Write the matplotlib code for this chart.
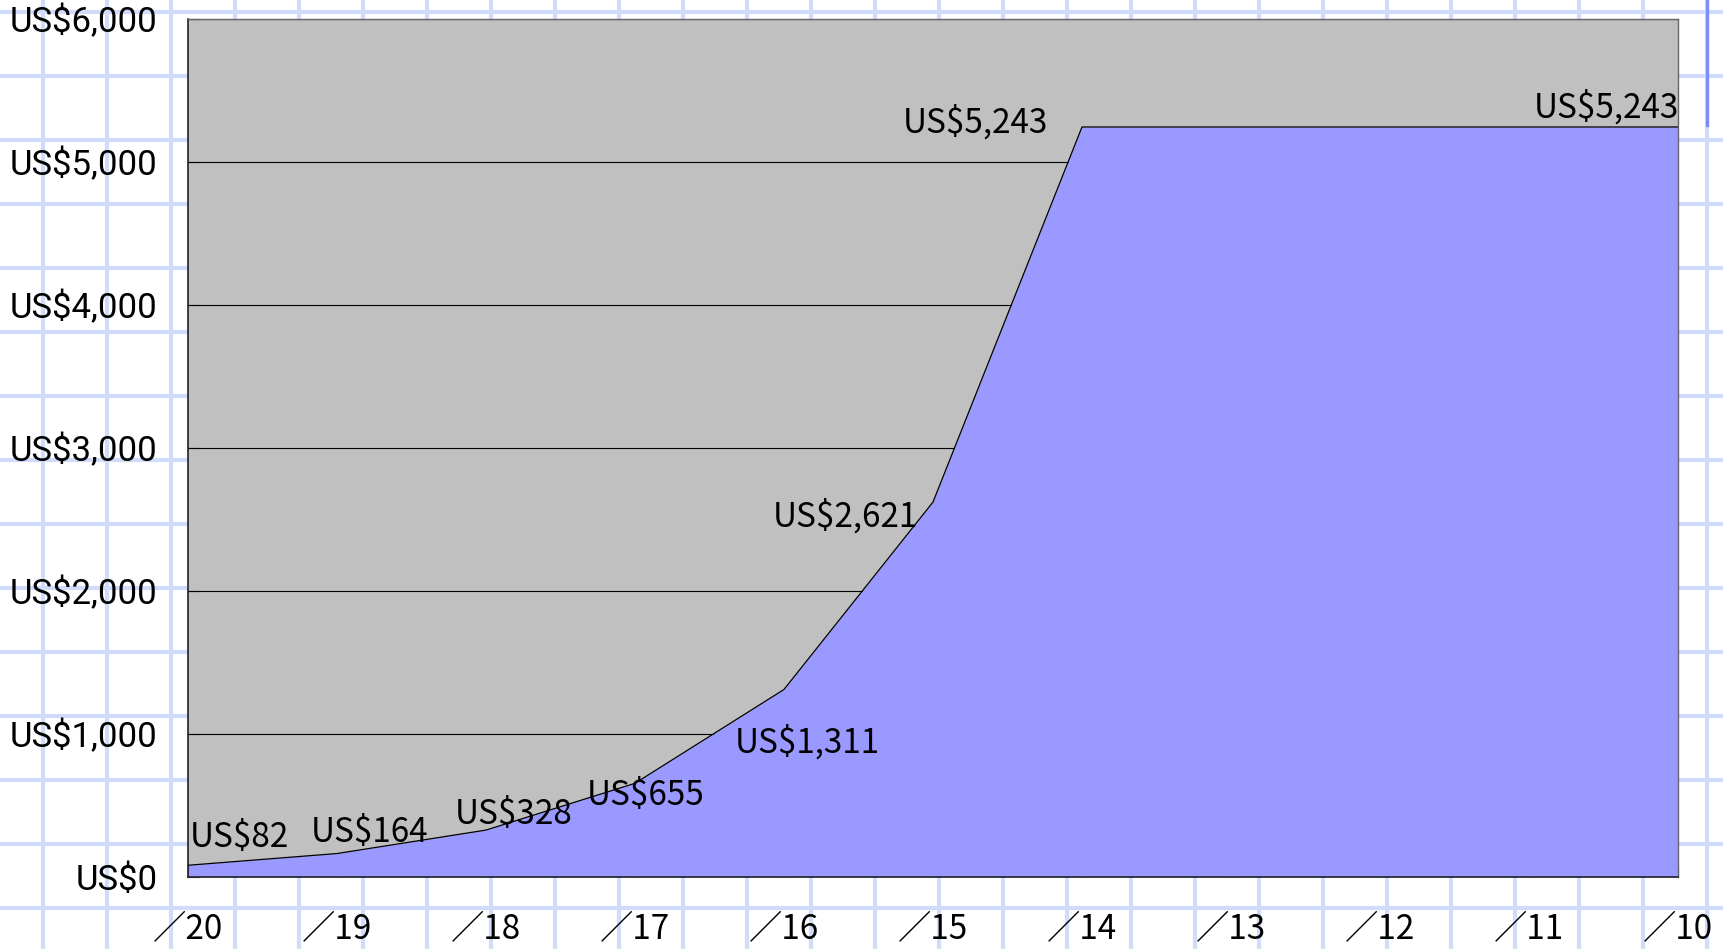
import numpy as np
import matplotlib
matplotlib.use("Agg")
import matplotlib.pyplot as plt
from matplotlib.ticker import FuncFormatter

# ── Data ──────────────────────────────────────────────────────────────────
periods = ["／20", "／19", "／18", "／17", "／16", "／15",
           "／14", "／13", "／12", "／11", "／10"]
values = [82, 164, 328, 655, 1311, 2621, 5243, 5243, 5243, 5243, 5243]
# which points carry a value label, and where (offset in pixels, h-align)
label_idx = [0, 1, 2, 3, 4, 5, 6, 10]
label_off = {0: (2, 18, "left"), 1: (-26, 12, "left"), 2: (-31, 6, "left"),
             3: (-48, -22, "left"), 4: (-49, -63, "left"),
             5: (-160, -25, "left"), 6: (-179, -6, "left"),
             10: (1, 9, "right")}

W, H, DPI = 1723, 949, 100
label_font = ["Liberation Sans Narrow", "Noto Sans CJK JP", "DejaVu Sans"]

fig = plt.figure(figsize=(W / DPI, H / DPI), dpi=DPI)
fig.patch.set_facecolor("white")

# ── graph-paper background ────────────────────────────────────────────────
bg = fig.add_axes([0, 0, 1, 1], zorder=0)
bg.set_xlim(0, W)
bg.set_ylim(H, 0)
bg.axis("off")
for xv in range(43, W, 64):
    bg.axvline(xv, color="#D0DCFA", linewidth=3.0)
for yv in range(12, H, 64):
    bg.axhline(yv, color="#D0DCFA", linewidth=3.0)
bg.plot([1707, 1707], [0, 125], color="#7B8CFF", linewidth=2.4)

# ── main chart ────────────────────────────────────────────────────────────
left, right = 188 / W, 1678 / W
bottom, top = 1 - 877 / H, 1 - 18.7 / H
ax = fig.add_axes([left, bottom, right - left, top - bottom], zorder=1)
ax.set_facecolor("#C0C0C0")

x = np.arange(len(values))
ax.set_xlim(0, len(values) - 1)
ax.set_ylim(0, 6000)

for yv in range(1000, 6001, 1000):
    ax.axhline(yv, color="black", linewidth=0.8, zorder=1)
ax.fill_between(x, 0, values, color="#9999FF", linewidth=0, zorder=2)
ax.plot(x, values, color="black", linewidth=0.9, zorder=3)

for i in label_idx:
    dx, dy, ha = label_off[i]
    ax.annotate(f"US${values[i]:,}", (x[i], values[i]),
                xytext=(dx, dy), textcoords="offset pixels",
                ha=ha, va="baseline", fontsize=24,
                family=label_font, color="black", zorder=4)

ax.set_xticks(x)
ax.set_xticklabels(periods, family=["Noto Sans CJK JP", "DejaVu Sans"],
                   fontsize=24)
ax.set_yticks(np.arange(0, 6001, 1000))
ax.yaxis.set_major_formatter(FuncFormatter(lambda v, p: f"US${int(v):,}"))
for lab in ax.get_yticklabels():
    lab.set_family(["Roboto", "DejaVu Sans"])
    lab.set_fontsize(25)

ax.tick_params(axis="x", direction="in", length=8, width=0.8, pad=25)
ax.tick_params(axis="y", direction="in", length=8, width=0.8, pad=22)

for side in ["left", "bottom"]:
    ax.spines[side].set_color("#222222")
    ax.spines[side].set_linewidth(1.2)
for side in ["top", "right"]:
    ax.spines[side].set_color("#666666")
    ax.spines[side].set_linewidth(1.0)

fig.savefig("out.png", dpi=DPI)
